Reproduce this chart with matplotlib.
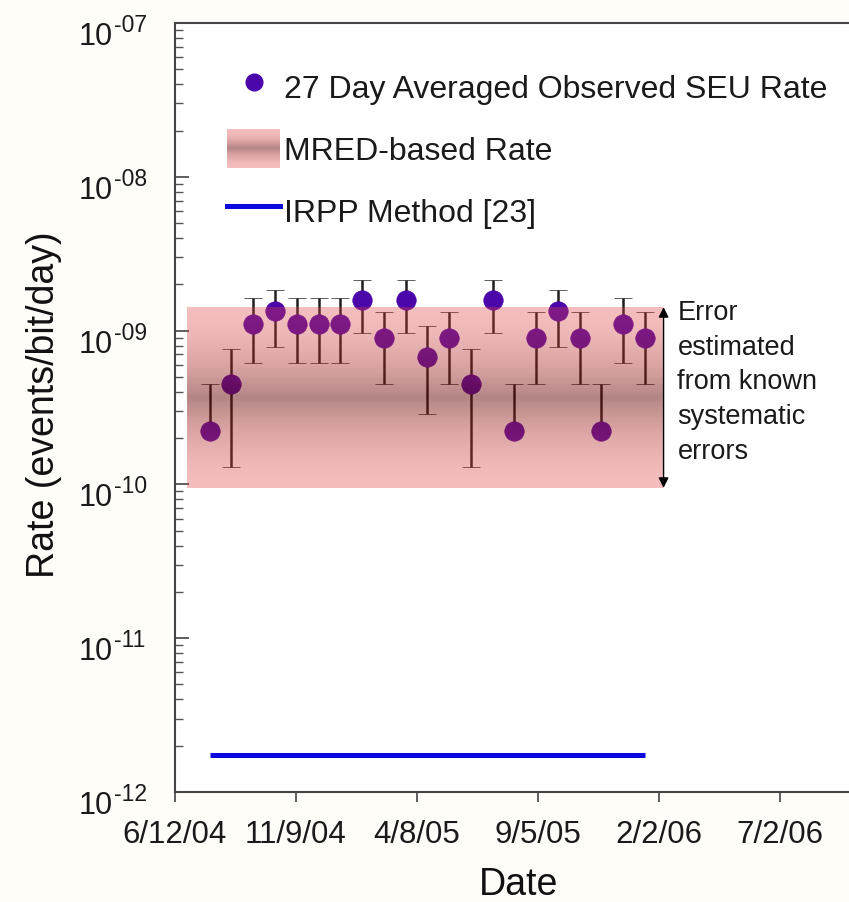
import numpy as np
import matplotlib
matplotlib.use("Agg")
import matplotlib.pyplot as plt
import matplotlib.dates as mdates
import matplotlib.transforms as mtransforms
from matplotlib.patches import Rectangle
from matplotlib.lines import Line2D
from matplotlib.legend_handler import HandlerBase
from matplotlib.ticker import FixedLocator, FixedFormatter, LogLocator, NullFormatter
from datetime import datetime

plt.rcParams['font.family'] = ['Liberation Sans', 'DejaVu Sans']
plt.rcParams['axes.unicode_minus'] = False

# ---------------- data ----------------
obs_dates = ["2004-07-25", "2004-08-21", "2004-09-17", "2004-10-14", "2004-11-10",
             "2004-12-07", "2005-01-03", "2005-01-30", "2005-02-26", "2005-03-25",
             "2005-04-21", "2005-05-18", "2005-06-14", "2005-07-11", "2005-08-07",
             "2005-09-03", "2005-09-30", "2005-10-27", "2005-11-23", "2005-12-20",
             "2006-01-16"]
obs_rate = [2.23e-10, 4.47e-10, 1.11e-9, 1.34e-9, 1.11e-9,
            1.11e-9, 1.11e-9, 1.57e-9, 8.9e-10, 1.57e-9,
            6.7e-10, 8.9e-10, 4.47e-10, 1.57e-9, 2.23e-10,
            8.9e-10, 1.34e-9, 8.9e-10, 2.23e-10, 1.11e-9,
            8.9e-10]
obs_low = [None, 1.30e-10, 6.2e-10, 7.85e-10, 6.2e-10,
           6.2e-10, 6.2e-10, 9.7e-10, 4.47e-10, 9.7e-10,
           2.88e-10, 4.47e-10, 1.30e-10, 9.7e-10, None,
           4.47e-10, 7.85e-10, 4.47e-10, None, 6.2e-10,
           4.47e-10]
obs_high = [4.47e-10, 7.6e-10, 1.62e-9, 1.85e-9, 1.62e-9,
            1.62e-9, 1.62e-9, 2.13e-9, 1.33e-9, 2.13e-9,
            1.07e-9, 1.33e-9, 7.6e-10, 2.13e-9, 4.47e-10,
            1.33e-9, 1.85e-9, 1.33e-9, 4.47e-10, 1.62e-9,
            1.33e-9]

mred_dates = ["2004-06-27", "2006-02-08"]
mred_low = 9.5e-11
mred_high = 1.42e-9

irpp_dates = ["2004-07-25", "2006-01-16"]
irpp_rate = [1.75e-12, 1.75e-12]

xtick_labels = ["6/12/04", "11/9/04", "4/8/05", "9/5/05", "2/2/06", "7/2/06"]
ytick_values = [1e-12, 1e-11, 1e-10, 1e-9, 1e-8, 1e-7]
ytick_exponents = ["-12", "-11", "-10", "-09", "-08", "-07"]
x_range = ["2004-06-12", "2006-09-26"]

legend_labels = ["27 Day Averaged Observed SEU Rate", "MRED-based Rate", "IRPP Method [23]"]
note_text = "Error\nestimated\nfrom known\nsystematic\nerrors"

# ---------------- helpers ----------------
def d(s):
    return datetime.strptime(s, "%Y-%m-%d")

def dm(s):
    return datetime.strptime(s, "%m/%d/%y")

EDGE_RGB = np.array([226, 64, 64]) / 255.0
CENT_RGB = np.array([104, 10, 10]) / 255.0
EDGE_A, CENT_A = 0.34, 0.50

def band_rgba(u):
    t = (1 - abs(2 * u - 1)) ** 1.6
    rgb = EDGE_RGB + (CENT_RGB - EDGE_RGB) * t
    a = EDGE_A + (CENT_A - EDGE_A) * t
    return (*rgb, a)

def band_over_white(u):
    r, g, b, a = band_rgba(u)
    return (a * r + (1 - a), a * g + (1 - a), a * b + (1 - a))

class GradientHandler(HandlerBase):
    def create_artists(self, legend, orig_handle, xdescent, ydescent,
                       width, height, fontsize, trans):
        n = 40
        arts = []
        for i in range(n):
            u = (i + 0.5) / n
            r = Rectangle((-xdescent, -ydescent + i * height / n), width,
                          height / n * 1.05, facecolor=band_over_white(u),
                          edgecolor='none', transform=trans, antialiased=False)
            arts.append(r)
        return arts

# ---------------- figure ----------------
fig = plt.figure(figsize=(8.49, 9.03), dpi=100, facecolor='#fffdf7')
ax = fig.add_axes([175 / 849, (903 - 793) / 903, (849 - 175) / 849, (793 - 24) / 903])
ax.set_facecolor('white')
ax.set_yscale('log')

MARK = '#4b06aa'
xs = [d(s) for s in obs_dates]
vals = np.array(obs_rate)
lows = np.array([v if l is None else l for v, l in zip(obs_rate, obs_low)])
highs = np.array(obs_high)
yerr = np.vstack([vals - lows, highs - vals])

ax.errorbar(xs, vals, yerr=yerr, fmt='o', color=MARK, markersize=14,
            markeredgecolor=MARK, markeredgewidth=0.5,
            ecolor='#1e1e1e', elinewidth=1.8, capsize=6.2, capthick=1.8, zorder=3)

# MRED band (gradient overlay)
n = 80
edges = np.logspace(np.log10(mred_low), np.log10(mred_high), n + 1)
bx = [d(s) for s in mred_dates]
for i in range(n):
    u = (i + 0.5) / n
    ax.fill_between(bx, edges[i], edges[i + 1], facecolor=band_rgba(u),
                    edgecolor='none', linewidth=0, antialiased=False, zorder=4)

# IRPP line
ax.plot([d(s) for s in irpp_dates], irpp_rate, color='#0a0ae0', linewidth=3.6,
        solid_capstyle='butt', zorder=3)

# arrow + note
ax.annotate('', xy=(bx[1], mred_high), xytext=(bx[1], mred_low),
            arrowprops=dict(arrowstyle='<|-|>', color='black', lw=1.0,
                            mutation_scale=15, shrinkA=0, shrinkB=0), zorder=5)
ax.annotate(note_text, xy=(bx[1], mred_high), xytext=(10, 6),
            textcoords='offset points', ha='left', va='top', fontsize=19.5,
            linespacing=1.44, color='#1a1a1a', zorder=5)

# axes limits & ticks
ax.set_xlim(d(x_range[0]), d(x_range[1]))
ax.set_ylim(1e-12, 1e-7)

ax.xaxis.set_major_locator(FixedLocator([mdates.date2num(dm(s)) for s in xtick_labels]))
ax.xaxis.set_major_formatter(FixedFormatter(xtick_labels))
ax.yaxis.set_major_locator(FixedLocator(ytick_values))
ax.yaxis.set_major_formatter(NullFormatter())
ax.yaxis.set_minor_locator(LogLocator(base=10, subs=np.arange(2, 10), numticks=20))
ax.yaxis.set_minor_formatter(NullFormatter())

ax.tick_params(axis='y', which='major', direction='in', length=10, width=1.2,
               colors='#444444')
ax.tick_params(axis='y', which='minor', direction='in', length=5.5, width=1.0,
               colors='#555555')
ax.tick_params(axis='x', which='major', direction='out', length=7.2, width=1.2,
               labelsize=22.5, pad=12.5, colors='#444444', labelcolor='#1a1a1a')
ax.tick_params(axis='x', which='minor', bottom=False)

# y tick labels: "10" plus a raised exponent (hyphen minus)
blend = mtransforms.blended_transform_factory(ax.transAxes, ax.transData)
base_tr = blend + mtransforms.ScaledTranslation(-62 / 100, -21 / 100, fig.dpi_scale_trans)
exp_tr = blend + mtransforms.ScaledTranslation(-61 / 100, -8 / 100, fig.dpi_scale_trans)
for v, e in zip(ytick_values, ytick_exponents):
    ax.text(0, v, '10', transform=base_tr, ha='right', va='baseline',
            fontsize=22, color='#1a1a1a', clip_on=False)
    ax.text(0, v, e, transform=exp_tr, ha='left', va='baseline',
            fontsize=16.5, color='#1a1a1a', clip_on=False)

for side in ['left', 'bottom', 'top']:
    ax.spines[side].set_color('#444444')
    ax.spines[side].set_linewidth(1.5)
ax.spines['right'].set_visible(False)

ax.set_xlabel('Date', fontsize=27, color='#111111', va='top')
ax.xaxis.set_label_coords(0.51, -0.096)
ax.set_ylabel('Rate (events/bit/day)', fontsize=27, color='#111111')
ax.yaxis.set_label_coords(-0.168, 0.505)

# legend
h1 = Line2D([], [], linestyle='none', marker='o', color=MARK, markersize=13,
            markeredgewidth=0)
h2 = Rectangle((0, 0), 1, 1)
h3 = Line2D([], [], color='#0a0ae0', linewidth=3.6)
leg = ax.legend([h1, h2, h3], legend_labels, handler_map={Rectangle: GradientHandler()},
                loc='upper left', bbox_to_anchor=(0.0772, 0.943), frameon=False,
                fontsize=23, handlelength=1.66, handleheight=1.5, handletextpad=0.12,
                labelspacing=0.72, borderpad=0, borderaxespad=0)
for t in leg.get_texts():
    t.set_color('#1a1a1a')

fig.savefig('out.png', dpi=100, facecolor=fig.get_facecolor())
